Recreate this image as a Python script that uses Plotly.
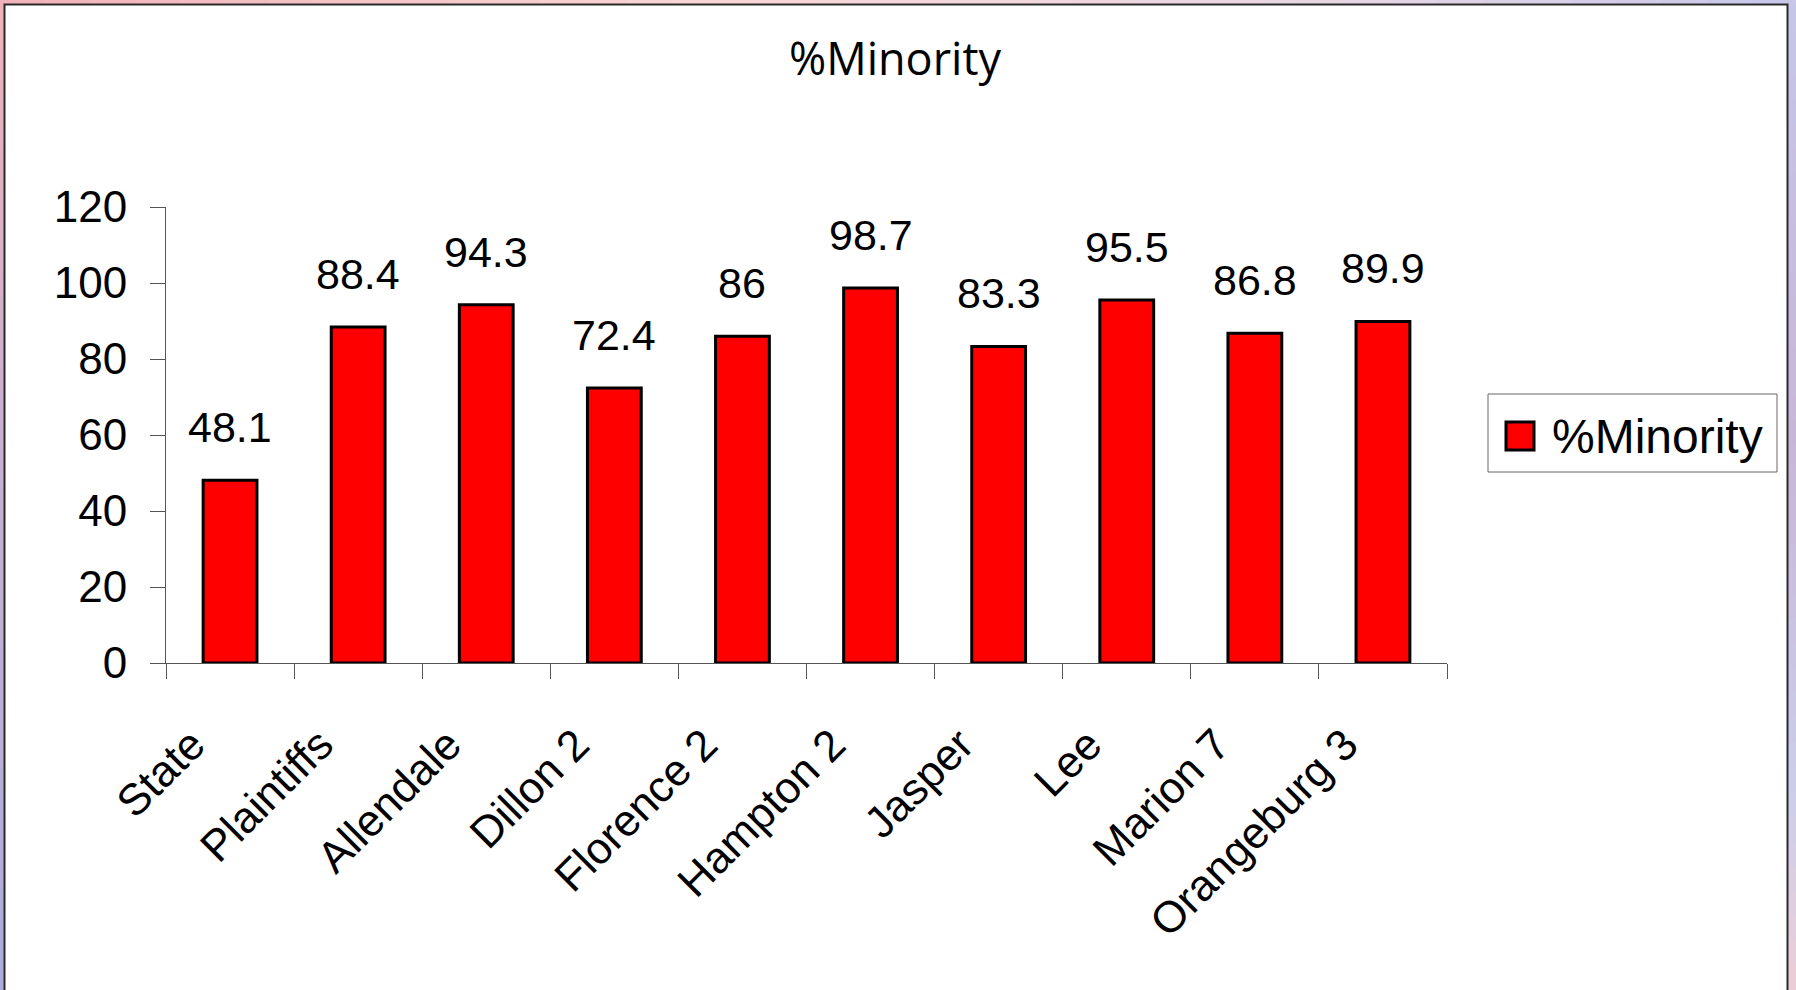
import plotly.graph_objects as go

categories = ["State", "Plaintiffs", "Allendale", "Dillon 2", "Florence 2",
              "Hampton 2", "Jasper", "Lee", "Marion 7", "Orangeburg 3"]
values = [48.1, 88.4, 94.3, 72.4, 86, 98.7, 83.3, 95.5, 86.8, 89.9]
labels = ["48.1", "88.4", "94.3", "72.4", "86", "98.7", "83.3", "95.5", "86.8", "89.9"]
series_name = "%Minority"
y_ticks = [0, 20, 40, 60, 80, 100, 120]

W, H = 1796, 990
L, R, T, B = 166, 1447, 207, 663  # plot area in px


def px2paper(px, py):
    return (px - L) / (R - L), (B - py) / (B - T)


def lerp(c1, c2, t):
    return tuple(round(a + (b - a) * t) for a, b in zip(c1, c2))


def grad(stops, t):
    for i in range(len(stops) - 1):
        t0, c0 = stops[i]
        t1, c1 = stops[i + 1]
        if t0 <= t <= t1:
            return lerp(c0, c1, (t - t0) / (t1 - t0) if t1 > t0 else 0)
    return stops[-1][1]


fig = go.Figure()
fig.add_trace(go.Bar(
    x=categories, y=values, name=series_name,
    marker=dict(color="#ff0000", line=dict(color="#000000", width=3)),
    showlegend=False,
))

shapes = []
# gradient frame strips
top_stops = [(0, (240, 178, 184)), (0.4, (250, 214, 214)), (0.75, (232, 214, 228)), (1, (198, 198, 234))]
left_stops = [(0, (240, 178, 184)), (0.45, (200, 176, 210)), (1, (172, 172, 220))]
right_stops = [(0, (198, 198, 234)), (0.45, (200, 182, 214)), (0.8, (204, 206, 234)), (1, (236, 206, 214))]
N = 40
for i in range(N):
    t = (i + 0.5) / N
    c = "rgb(%d,%d,%d)" % grad(top_stops, t)
    x0, y0 = px2paper(W * i / N, 0)
    x1, y1 = px2paper(W * (i + 1) / N + 1, 5)
    shapes.append(dict(type="rect", xref="paper", yref="paper", x0=x0, x1=x1, y0=y0, y1=y1,
                       fillcolor=c, line=dict(width=0), layer="below"))
    c = "rgb(%d,%d,%d)" % grad(left_stops, t)
    x0, y0 = px2paper(0, H * i / N)
    x1, y1 = px2paper(5, H * (i + 1) / N + 1)
    shapes.append(dict(type="rect", xref="paper", yref="paper", x0=x0, x1=x1, y0=y0, y1=y1,
                       fillcolor=c, line=dict(width=0), layer="below"))
    c = "rgb(%d,%d,%d)" % grad(right_stops, t)
    x0, y0 = px2paper(1788, H * i / N)
    x1, y1 = px2paper(W, H * (i + 1) / N + 1)
    shapes.append(dict(type="rect", xref="paper", yref="paper", x0=x0, x1=x1, y0=y0, y1=y1,
                       fillcolor=c, line=dict(width=0), layer="below"))

# frame line
x0, y0 = px2paper(4.5, 4.5)
x1, y1 = px2paper(1787.5, 995)
shapes.append(dict(type="rect", xref="paper", yref="paper", x0=x0, x1=x1, y0=y0, y1=y1,
                   line=dict(color="#2a2a2a", width=2), fillcolor="rgba(0,0,0,0)", layer="below"))

# legend box
x0, y0 = px2paper(1488, 394)
x1, y1 = px2paper(1777, 472)
shapes.append(dict(type="rect", xref="paper", yref="paper", x0=x0, x1=x1, y0=y0, y1=y1,
                   line=dict(color="#666666", width=1), fillcolor="white"))
x0, y0 = px2paper(1506, 422)
x1, y1 = px2paper(1534, 450)
shapes.append(dict(type="rect", xref="paper", yref="paper", x0=x0, x1=x1, y0=y0, y1=y1,
                   line=dict(color="#000000", width=3), fillcolor="#ff0000"))

annotations = []
for c, v, t in zip(categories, values, labels):
    annotations.append(dict(x=c, y=v, xref="x", yref="y", text=t, showarrow=False,
                            yanchor="bottom", xanchor="center", yshift=27,
                            font=dict(family="Liberation Sans, Arial", size=43, color="#000000")))
lx, ly = px2paper(1550, 436)
annotations.append(dict(x=lx, y=ly, xref="paper", yref="paper", text=series_name, showarrow=False,
                        xanchor="left", yanchor="middle",
                        font=dict(family="Liberation Sans, Arial", size=48, color="#000000")))

fig.update_layout(
    width=W, height=H,
    margin=dict(l=L, r=W - R, t=T, b=H - B, pad=0),
    paper_bgcolor="white", plot_bgcolor="rgba(0,0,0,0)",
    title=dict(text=series_name, x=895 / W, xref="container", xanchor="center",
               y=1 - 59 / H, yref="container", yanchor="middle",
               font=dict(family="Open Sans", size=45, color="#000000")),
    bargap=0.58,
    showlegend=False,
    shapes=shapes,
    annotations=annotations,
    font=dict(family="Liberation Sans, Arial", color="#000000"),
)
fig.update_xaxes(
    type="category", range=[-0.5, 9.5],
    showline=True, linecolor="#555555", linewidth=1,
    ticks="outside", ticklen=15, tickcolor="#555555", tickwidth=1, tickson="boundaries",
    tickangle=-45, ticklabelstandoff=37, ticklabelshift=-38,
    tickfont=dict(size=44, family="Liberation Sans, Arial", color="#000000"),
    showgrid=False, zeroline=False,
)
fig.update_yaxes(
    range=[0, 120], tickvals=y_ticks, ticktext=[str(v) for v in y_ticks],
    showline=True, linecolor="#555555", linewidth=1,
    ticks="outside", ticklen=15, tickcolor="#555555", tickwidth=1,
    ticklabelstandoff=14,
    tickfont=dict(size=44, family="Liberation Sans, Arial", color="#000000"),
    showgrid=False, zeroline=False,
)

fig.write_html("out.html", config={"displayModeBar": False},
               post_script="document.body.style.margin='0';document.body.style.padding='0';")
